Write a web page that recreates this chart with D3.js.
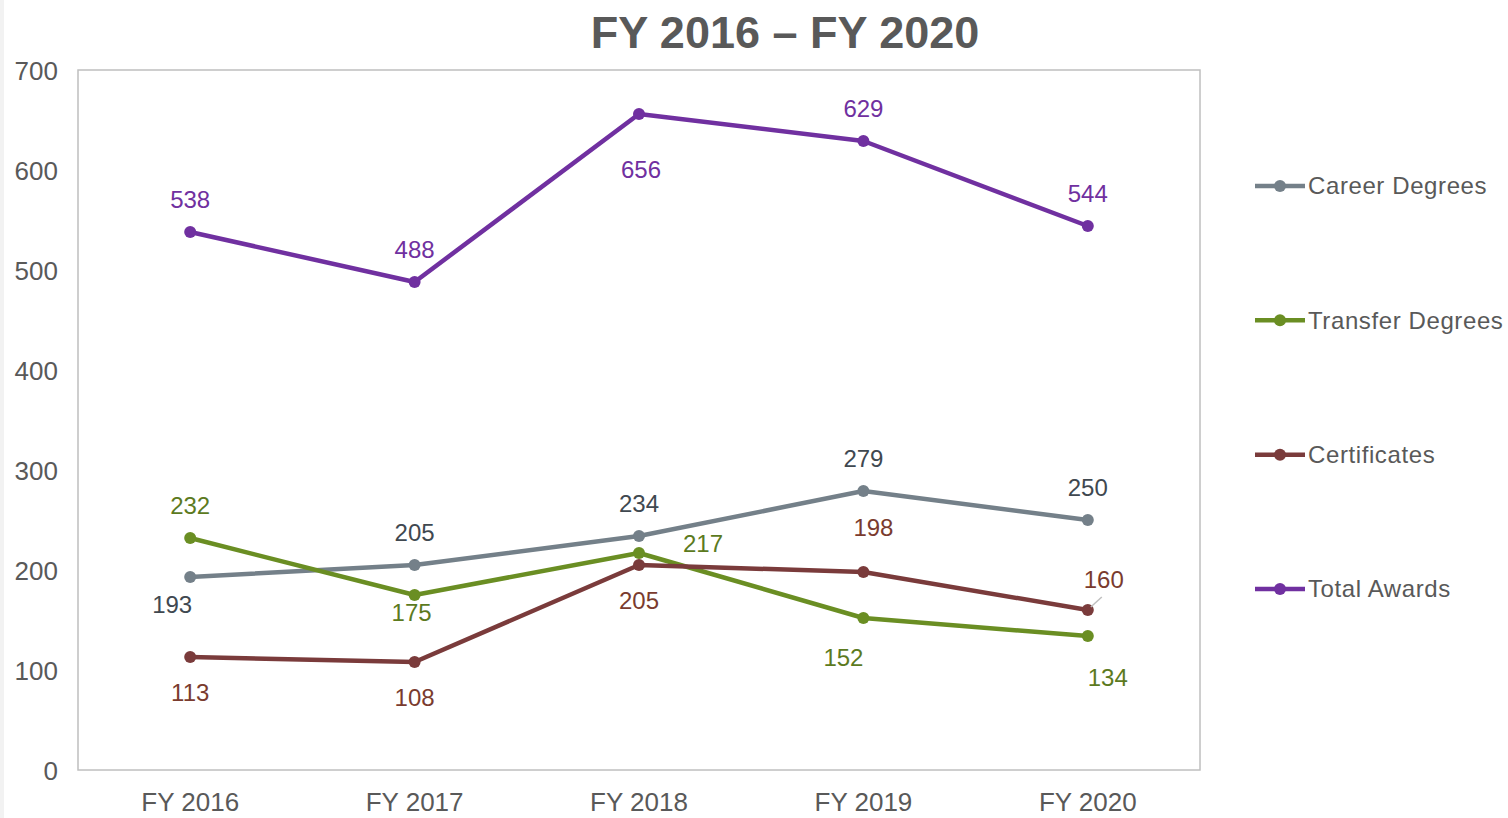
<!DOCTYPE html>
<html>
<head>
<meta charset="utf-8">
<script src="https://cdn.jsdelivr.net/npm/d3@7"></script>
<style>
  body { margin: 0; background: #fff; }
  svg { display: block; font-family: "Liberation Sans", Arial, sans-serif; }
  .tick text { fill: #595959; font-size: 26px; }
</style>
</head>
<body>
<svg width="1508" height="818"></svg>
<script>
// chart data
var years = ["FY 2016", "FY 2017", "FY 2018", "FY 2019", "FY 2020"];
var seriesNames = ["Career Degrees", "Transfer Degrees", "Certificates", "Total Awards"];
var careerDegrees = [193, 205, 234, 279, 250];
var transferDegrees = [232, 175, 217, 152, 134];
var certificates = [113, 108, 205, 198, 160];
var totalAwards = [538, 488, 656, 629, 544];
var yTicks = [0, 100, 200, 300, 400, 500, 600, 700];

// where each data label sits relative to its point
var labelSpots = [
	["belowleft2", "above", "above", "above", "above"],
	["above", "belowclose", "right", "belowleft", "belowright"],
	["below", "below", "below", "aboveright", "leader"],
	["above", "above", "belowfar", "above", "above"]
];
var lineColors = ["#748089", "#6a8e23", "#7a3b3b", "#7030a0"];
var labelColors = ["#404850", "#5c7a1e", "#7a3b2e", "#7030a0"];

var seriesValues = [careerDegrees, transferDegrees, certificates, totalAwards];

var svg = d3.select("svg");
var plotLeft = 78, plotTop = 70, plotRight = 1200, plotBottom = 770;

var x = d3.scaleBand().domain(years).range([plotLeft, plotRight]);
var y = d3.scaleLinear().domain([0, 700]).range([plotBottom, plotTop]);

// left edge strip
svg.append("rect").attr("x", 0).attr("y", 0).attr("width", 4).attr("height", 818).attr("fill", "#f2f2f2");

// plot frame
svg.append("rect")
	.attr("x", plotLeft).attr("y", plotTop)
	.attr("width", plotRight - plotLeft).attr("height", plotBottom - plotTop)
	.attr("fill", "none").attr("stroke", "#bfbfbf").attr("stroke-width", 1.5);

svg.append("text")
	.attr("x", 785).attr("y", 48)
	.attr("text-anchor", "middle")
	.attr("font-size", 45).attr("font-weight", "bold")
	.attr("fill", "#595959")
	.text("FY 2016 \u2013 FY 2020");

var yAxis = svg.append("g")
	.attr("transform", "translate(" + (plotLeft - 20) + ",0)")
	.call(d3.axisLeft(y).tickValues(yTicks).tickSize(0).tickPadding(0));
yAxis.select(".domain").remove();
yAxis.selectAll("text").attr("dy", "0.35em");

var xAxis = svg.append("g")
	.attr("transform", "translate(0," + plotBottom + ")")
	.call(d3.axisBottom(x).tickSize(0).tickPadding(25));
xAxis.select(".domain").remove();
xAxis.selectAll("text").attr("dy", "0.6em");

function cxOf(i){ return x(years[i]) + x.bandwidth() / 2; }

var line = d3.line()
	.x(function(d, i){ return cxOf(i); })
	.y(function(d){ return y(d); });

var offsets = {
	above: [0, -32, "middle"],
	below: [0, 36, "middle"],
	belowclose: [-3, 18, "middle"],
	belowfar: [2, 56, "middle"],
	right: [44, -9, "start"],
	belowleft: [-20, 40, "middle"],
	belowleft2: [-18, 28, "middle"],
	belowright: [20, 42, "middle"],
	aboveright: [10, -44, "middle"],
	leader: [16, -30, "middle"]
};

seriesValues.forEach(function(vals, s){
	var g = svg.append("g").attr("class", "series");
	g.append("path")
		.datum(vals)
		.attr("d", line)
		.attr("fill", "none")
		.attr("stroke", lineColors[s])
		.attr("stroke-width", 4.5)
		.attr("stroke-linejoin", "round");
	g.selectAll("circle")
		.data(vals)
		.enter().append("circle")
		.attr("cx", function(d, i){ return cxOf(i); })
		.attr("cy", function(d){ return y(d); })
		.attr("r", 6)
		.attr("fill", lineColors[s]);
	g.selectAll("text")
		.data(vals)
		.enter().append("text")
		.attr("x", function(d, i){ return cxOf(i) + offsets[labelSpots[s][i]][0]; })
		.attr("y", function(d, i){ return y(d) + offsets[labelSpots[s][i]][1]; })
		.attr("dy", "0.35em")
		.attr("text-anchor", function(d, i){ return offsets[labelSpots[s][i]][2]; })
		.attr("font-size", 24)
		.attr("fill", labelColors[s])
		.text(function(d){ return d; });
	vals.forEach(function(d, i){
		if (labelSpots[s][i] === "leader") {
			svg.append("line")
				.attr("x1", cxOf(i) + 3).attr("y1", y(d) - 3)
				.attr("x2", cxOf(i) + 14).attr("y2", y(d) - 13)
				.attr("stroke", "#bfbfbf").attr("stroke-width", 1.5);
		}
	});
});

// legend
var legend = svg.append("g").attr("class", "legend");
var legendY = d3.scalePoint().domain(seriesNames).range([186, 589]);
seriesNames.forEach(function(name, s){
	var ly = legendY(name);
	legend.append("line")
		.attr("x1", 1255).attr("x2", 1305)
		.attr("y1", ly).attr("y2", ly)
		.attr("stroke", lineColors[s]).attr("stroke-width", 4.5);
	legend.append("circle")
		.attr("cx", 1280).attr("cy", ly).attr("r", 6)
		.attr("fill", lineColors[s]);
	legend.append("text")
		.attr("x", 1308).attr("y", ly)
		.attr("dy", "0.35em")
		.attr("font-size", 24)
		.attr("letter-spacing", "0.6px")
		.attr("fill", "#595959")
		.text(name);
});
</script>
</body>
</html>
